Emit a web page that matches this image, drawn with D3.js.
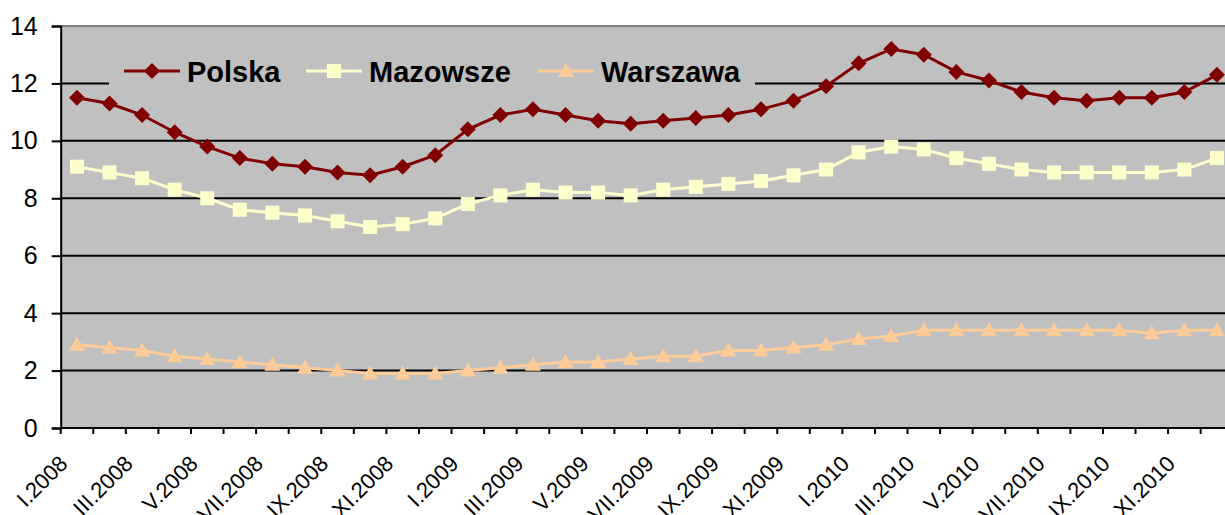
<!DOCTYPE html>
<html>
<head>
<meta charset="utf-8">
<script src="https://cdn.jsdelivr.net/npm/d3@7"></script>
<style>
    body { margin: 0; background: #fff; }
    svg { display: block; font-family: "Liberation Sans", Arial, sans-serif; }
</style>
</head>
<body>
<div id="chart"></div>
<script>
// months (roman) and years used for the category labels
const months = ["I", "II", "III", "IV", "V", "VI", "VII", "VIII", "IX", "X", "XI", "XII"];
const years = [2008, 2009, 2010];
const categories = [];
years.forEach(y => months.forEach(m => categories.push(m + "." + y)));

const yTicks = [0, 2, 4, 6, 8, 10, 12, 14];

const polska = [11.5, 11.3, 10.9, 10.3, 9.8, 9.4, 9.2, 9.1, 8.9, 8.8, 9.1, 9.5,
                10.4, 10.9, 11.1, 10.9, 10.7, 10.6, 10.7, 10.8, 10.9, 11.1, 11.4, 11.9,
                12.7, 13.2, 13.0, 12.4, 12.1, 11.7, 11.5, 11.4, 11.5, 11.5, 11.7, 12.3];
const mazowsze = [9.1, 8.9, 8.7, 8.3, 8.0, 7.6, 7.5, 7.4, 7.2, 7.0, 7.1, 7.3,
                  7.8, 8.1, 8.3, 8.2, 8.2, 8.1, 8.3, 8.4, 8.5, 8.6, 8.8, 9.0,
                  9.6, 9.8, 9.7, 9.4, 9.2, 9.0, 8.9, 8.9, 8.9, 8.9, 9.0, 9.4];
const warszawa = [2.9, 2.8, 2.7, 2.5, 2.4, 2.3, 2.2, 2.1, 2.0, 1.9, 1.9, 1.9,
                  2.0, 2.1, 2.2, 2.3, 2.3, 2.4, 2.5, 2.5, 2.7, 2.7, 2.8, 2.9,
                  3.1, 3.2, 3.4, 3.4, 3.4, 3.4, 3.4, 3.4, 3.4, 3.3, 3.4, 3.4];

const series = [
    {name: "Polska",   values: polska,   color: "#800000", marker: "diamond"},
    {name: "Mazowsze", values: mazowsze, color: "#FFFFCC", marker: "square"},
    {name: "Warszawa", values: warszawa, color: "#FFCC99", marker: "triangle"}
];

const width = 1225, height = 515;
const plot = {left: 60.7, top: 26, bottom: 428, band: 32.57};

const svg = d3.select("#chart").append("svg")
    .attr("width", width)
    .attr("height", height);

const x = d3.scaleBand()
    .domain(categories)
    .range([plot.left, plot.left + categories.length * plot.band]);

const y = d3.scaleLinear()
    .domain([0, 14])
    .range([plot.bottom, plot.top]);

// plot background
svg.append("rect")
    .attr("x", plot.left)
    .attr("y", plot.top)
    .attr("width", width - plot.left)
    .attr("height", plot.bottom - plot.top)
    .attr("fill", "#C0C0C0");

// gridlines
svg.append("g")
    .selectAll("line")
    .data(yTicks.filter(d => d > 0 && d < 14))
    .enter().append("line")
    .attr("x1", plot.left)
    .attr("x2", width)
    .attr("y1", d => y(d))
    .attr("y2", d => y(d))
    .attr("stroke", "#000")
    .attr("stroke-width", 2);

// top border of plot area
svg.append("line")
    .attr("x1", plot.left).attr("x2", width)
    .attr("y1", y(14)).attr("y2", y(14))
    .attr("stroke", "#808080")
    .attr("stroke-width", 2);

// y axis
const yAxis = svg.append("g")
    .attr("transform", `translate(${plot.left},0)`)
    .call(d3.axisLeft(y).tickValues(yTicks).tickSize(9).tickPadding(14));
yAxis.select(".domain").attr("stroke-width", 2);
yAxis.selectAll(".tick line").attr("stroke-width", 2);
yAxis.selectAll("text")
    .attr("font-size", 25)
    .attr("font-family", "Liberation Sans, Arial, sans-serif")
    .attr("fill", "#000");

// x axis line
svg.append("line")
    .attr("x1", plot.left).attr("x2", width)
    .attr("y1", plot.bottom).attr("y2", plot.bottom)
    .attr("stroke", "#000")
    .attr("stroke-width", 2);

// x ticks at band boundaries
svg.append("g")
    .selectAll("line")
    .data(categories)
    .enter().append("line")
    .attr("x1", d => x(d))
    .attr("x2", d => x(d))
    .attr("y1", plot.bottom)
    .attr("y2", plot.bottom + 6)
    .attr("stroke", "#000")
    .attr("stroke-width", 2);

// x labels, every second month, rotated
svg.append("g")
    .selectAll("text")
    .data(categories.filter((d, i) => i % 2 === 0))
    .enter().append("text")
    .attr("transform", d => `translate(${x(d) + x.bandwidth() / 2 - 8}, 465) rotate(-45)`)
    .attr("text-anchor", "end")
    .attr("font-size", 22)
    .attr("fill", "#000")
    .text(d => d);

// marker shapes
function drawMarker(sel, type, color) {
    if (type === "diamond") {
        sel.append("path").attr("d", "M0,-8L8,0L0,8L-8,0Z").attr("fill", color);
    } else if (type === "square") {
        sel.append("rect").attr("x", -7).attr("y", -7).attr("width", 14).attr("height", 14).attr("fill", color);
    } else {
        sel.append("path").attr("d", "M0,-8L8,6L-8,6Z").attr("fill", color);
    }
}

const line = d3.line()
    .x((d, i) => x(categories[i]) + x.bandwidth() / 2)
    .y(d => y(d));

// lines and markers
series.forEach(function (s) {
    const g = svg.append("g");
    g.append("path")
        .attr("d", line(s.values))
        .attr("fill", "none")
        .attr("stroke", s.color)
        .attr("stroke-width", 3);

    g.selectAll(".pt")
        .data(s.values)
        .enter().append("g")
        .attr("class", "pt")
        .attr("transform", (d, i) => `translate(${x(categories[i]) + x.bandwidth() / 2},${y(d)})`)
        .each(function () { drawMarker(d3.select(this), s.marker, s.color); });
});

// legend
const legend = svg.append("g");
legend.append("rect")
    .attr("x", 109).attr("y", 52)
    .attr("width", 646).attr("height", 40)
    .attr("fill", "#C0C0C0");

const legendX = [152, 334, 566];
series.forEach(function (s, i) {
    const item = legend.append("g").attr("transform", `translate(${legendX[i]},71)`);
    item.append("line")
        .attr("x1", -28).attr("x2", 28)
        .attr("stroke", s.color)
        .attr("stroke-width", 3);
    drawMarker(item, s.marker, s.color);
    item.append("text")
        .attr("x", 35)
        .attr("y", 11)
        .attr("font-size", 29)
        .attr("font-weight", "bold")
        .attr("fill", "#000")
        .text(s.name);
});
</script>
</body>
</html>
